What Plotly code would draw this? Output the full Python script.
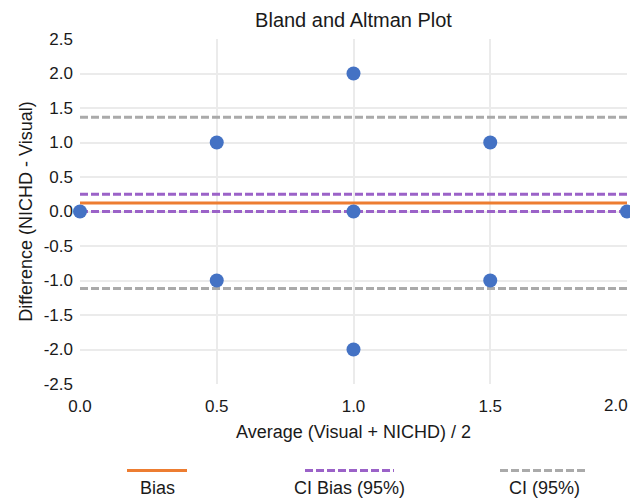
import plotly.graph_objects as go

# Data
avg_vals = [0.0, 0.5, 0.5, 1.0, 1.0, 1.0, 1.5, 1.5, 2.0]
diff_vals = [0.0, 1.0, -1.0, 2.0, 0.0, -2.0, 1.0, -1.0, 0.0]
x_extent = [0.0, 2.0]
bias = 0.125
ci_bias_upper = 0.25
ci_bias_lower = 0.0
loa_upper = 1.365
loa_lower = -1.115

x_tickvals = [0.0, 0.5, 1.0, 1.5, 2.0]
x_ticktext = ["0.0", "0.5", "1.0", "1.5", "2.0"]
y_tickvals = [2.5, 2.0, 1.5, 1.0, 0.5, 0.0, -0.5, -1.0, -1.5, -2.0, -2.5]
y_ticktext = ["2.5", "2.0", "1.5", "1.0", "0.5", "0.0", "-0.5", "-1.0", "-1.5", "-2.0", "-2.5"]

FONT = "Liberation Sans Narrow, Arial Narrow, Liberation Sans, Arial, sans-serif"
ORANGE = "#ED7D31"
PURPLE = "#9B62C8"
GRAY = "#AAAAAA"
BLUE = "#4472C4"
DASH = "8px,3px"
TXT = "#1a1a1a"

W, H = 630, 502
L, R, T, B = 80, 3, 39, 118
pw, ph = W - L - R, H - T - B

def px2x(px):
    return (px - L) / pw

def py2y(py):
    return (H - B - py) / ph

fig = go.Figure()

def hline(yv, color, dash, name):
    fig.add_trace(go.Scatter(x=x_extent, y=[yv, yv], mode="lines",
                             line=dict(color=color, width=3, dash=dash),
                             name=name, showlegend=False, hoverinfo="skip"))

hline(loa_upper, GRAY, DASH, "CI (95%)")
hline(loa_lower, GRAY, DASH, "CI (95%)")
hline(ci_bias_upper, PURPLE, DASH, "CI Bias (95%)")
hline(ci_bias_lower, PURPLE, DASH, "CI Bias (95%)")
hline(bias, ORANGE, "solid", "Bias")

fig.add_trace(go.Scatter(x=avg_vals, y=diff_vals, mode="markers",
                         marker=dict(color=BLUE, size=14),
                         showlegend=False, cliponaxis=False))

# custom legend (symbol above label)
legend_items = [("Bias", ORANGE, "solid", 127, 187),
                ("CI Bias (95%)", PURPLE, DASH, 305, 394),
                ("CI (95%)", GRAY, DASH, 500, 588)]
shapes = []
annotations = []
for name, color, dash, x0, x1 in legend_items:
    shapes.append(dict(type="line", xref="paper", yref="paper",
                       x0=px2x(x0), x1=px2x(x1), y0=py2y(470.5), y1=py2y(470.5),
                       line=dict(color=color, width=3, dash=dash)))
    annotations.append(dict(text=name, xref="paper", yref="paper",
                            x=px2x((x0 + x1) / 2), y=py2y(488), showarrow=False,
                            xanchor="center", yanchor="middle",
                            font=dict(family=FONT, size=18, color=TXT)))

# last x tick label is right-anchored at the figure edge so it stays fully visible
tick_labels_shown = x_ticktext[:-1] + [""]
annotations.append(dict(text=x_ticktext[-1], xref="x", yref="paper",
                        x=x_tickvals[-1], y=py2y(405), showarrow=False,
                        xanchor="right", yanchor="middle", xshift=R,
                        font=dict(family=FONT, size=17, color=TXT)))

fig.update_layout(
    width=W, height=H,
    margin=dict(l=L, r=R, t=T, b=B),
    plot_bgcolor="white", paper_bgcolor="white",
    font=dict(family=FONT, size=18, color=TXT),
    title=dict(text="Bland and Altman Plot", x=(L + pw / 2) / W, xanchor="center",
               y=1 - 20 / H, yanchor="middle", font=dict(family=FONT, size=20, color=TXT)),
    shapes=shapes, annotations=annotations,
    xaxis=dict(range=[0, 2], tickmode="array", tickvals=x_tickvals, ticktext=tick_labels_shown,
               showgrid=True, gridcolor="#EBEBEB", gridwidth=2, zeroline=False,
               showline=False, ticks="", tickfont=dict(size=17), automargin=False,
               ticklabelstandoff=10, ticklabeloverflow="allow",
               title=dict(text="Average (Visual + NICHD) / 2", standoff=10,
                          font=dict(size=18))),
    yaxis=dict(range=[-2.5, 2.5], tickmode="array", tickvals=y_tickvals, ticktext=y_ticktext,
               showgrid=True, gridcolor="#EBEBEB", gridwidth=2, zeroline=False,
               showline=False, ticks="", tickfont=dict(size=17), automargin=False,
               ticklabelstandoff=6, ticklabeloverflow="allow",
               title=dict(text="Difference (NICHD - Visual)", standoff=6,
                          font=dict(size=18))),
)

fig.write_html("out.html")
